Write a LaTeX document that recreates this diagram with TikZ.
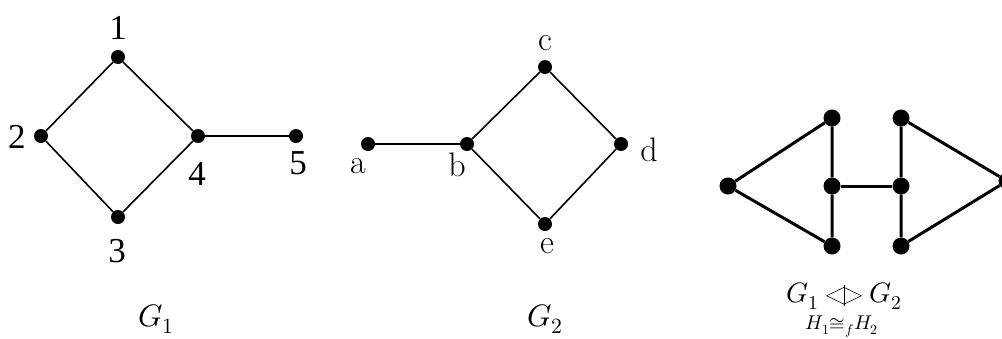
\documentclass[tikz,border=0pt]{standalone}
\usepackage{fontspec}
\usepackage{unicode-math}
\setmathfont{Latin Modern Math}
\newfontfamily\tms{Liberation Serif}
\newcommand\hsym{\tikz[baseline=-0.55ex,line width=0.6pt]{\draw (-0.62em,0)--(0,0.3em)--(0.62em,0)--(0,-0.3em)--cycle; \draw (0,0.38em)--(0,-0.36em);}}
\begin{document}
\begin{tikzpicture}[x=1pt,y=-1pt,
  v/.style={circle,fill=black,inner sep=0pt,minimum size=14pt},
  w/.style={circle,fill=black,inner sep=0pt,minimum size=17pt},
  thin edge/.style={line width=1.6pt},
  thick edge/.style={line width=3pt},
  num/.style={font=\tms\fontsize{35}{37}\selectfont,inner sep=0pt},
  let/.style={font=\fontsize{34}{36}\selectfont,inner sep=0pt},
  glabel/.style={font=\fontsize{31}{33}\selectfont,inner sep=0pt}]
\useasboundingbox (0,0) rectangle (1002,338);
% G1
\node[v] (n1) at (118,57) {};
\node[v] (n2) at (41,136) {};
\node[v] (n3) at (118,217) {};
\node[v] (n4) at (198,136) {};
\node[v] (n5) at (296,136) {};
\draw[thin edge] (n1)--(n2)--(n3)--(n4)--(n1);
\draw[thin edge] (n4)--(n5);
\node[num] (l1) at (118,28) {1};
\node[num] (l2) at (17,137) {2};
\node[num] (l3) at (117,251) {3};
\node[num] (l4) at (197,174) {4};
\node[num] (l5) at (298,163) {5};
\node[glabel] (g1) at (156,319) {$G_1$};
% G2
\node[v] (a) at (368,144) {};
\node[v] (b) at (467,144) {};
\node[v] (c) at (545,67) {};
\node[v] (d) at (621,144) {};
\node[v] (e) at (545,224) {};
\draw[thin edge] (a)--(b)--(c)--(d)--(e)--(b);
\node[let] (la) at (358,166) {a};
\node[let] (lb) at (457,165) {b};
\node[let] (lc) at (545,43) {c};
\node[let] (ld) at (649,150) {d};
\node[let] (le) at (547,246) {e};
\node[glabel] (g2) at (545,319) {$G_2$};
% G1 <> G2
\node[w] (p) at (728,186) {};
\node[w] (q1) at (832,118) {};
\node[w] (q2) at (832,186) {};
\node[w] (q3) at (832,246) {};
\node[w] (r1) at (901,118) {};
\node[w] (r2) at (901,186) {};
\node[w] (r3) at (901,246) {};
\node[w] (s) at (1007,181) {};
\draw[thick edge] (p)--(q1)--(q2)--(q3)--(p);
\draw[thick edge] (q2)--(r2);
\draw[thick edge] (s)--(r1)--(r2)--(r3)--(s);
\node[font=\fontsize{28}{30}\selectfont,inner sep=0pt] (g12) at (844,296) {$G_1\mathrel{\hsym}G_2$};
\node[font=\fontsize{20}{22}\selectfont,inner sep=0pt] (h12) at (842,327) {$H_1{\cong}_f H_2$};
\end{tikzpicture}
\end{document}
